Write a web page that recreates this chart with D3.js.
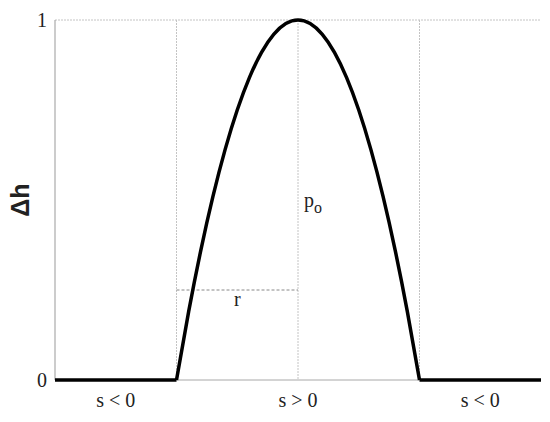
<!DOCTYPE html>
<html>
<head>
<meta charset="utf-8">
<script src="https://cdn.jsdelivr.net/npm/d3@7"></script>
<style>
  body { margin: 0; background: #fff; }
  text { font-family: "Liberation Serif", "Times New Roman", serif; fill: #222; }
</style>
</head>
<body>
<svg id="chart" width="550" height="422"></svg>
<script>
// regions along the s axis
const regionLabels = ['s < 0', 's > 0', 's < 0'];
const gridX = [1, 2, 3];
const yTicks = [0, 1];

// arch of the curve
const archX = [1, 1.1, 1.2, 1.3, 1.4, 1.5, 1.6, 1.7, 1.8, 1.9, 2, 2.1, 2.2, 2.3, 2.4, 2.5, 2.6, 2.7, 2.8, 2.9, 3];
const archY = [0, 0.19, 0.36, 0.51, 0.64, 0.75, 0.84, 0.91, 0.96, 0.99, 1, 0.99, 0.96, 0.91, 0.84, 0.75, 0.64, 0.51, 0.36, 0.19, 0];
// flat parts where s < 0
const flatLeft = [[0, 0], [1, 0]];
const flatRight = [[3, 0], [4, 0]];
// r marker level
const rLevel = 0.25;

const svg = d3.select('#chart');
const x = d3.scaleLinear().domain([0, 4]).range([55, 541]);
const y = d3.scaleLinear().domain([0, 1]).range([380, 20]);

// light grid
svg.append('line')
  .attr('x1', x(0)).attr('x2', x(4))
  .attr('y1', y(1)).attr('y2', y(1))
  .attr('stroke', '#c4c4c4').attr('stroke-dasharray', '2,1');

svg.selectAll('.vgrid')
  .data(gridX)
  .enter()
  .append('line')
  .attr('class', 'vgrid')
  .attr('x1', d => x(d)).attr('x2', d => x(d))
  .attr('y1', y(1)).attr('y2', y(0))
  .attr('stroke', '#c4c4c4').attr('stroke-dasharray', '2,1');

// baseline and left axis
svg.append('line')
  .attr('x1', x(0)).attr('x2', x(4))
  .attr('y1', y(0)).attr('y2', y(0))
  .attr('stroke', '#a8a8a8');
svg.append('line')
  .attr('x1', x(0)).attr('x2', x(0))
  .attr('y1', y(1)).attr('y2', y(0))
  .attr('stroke', '#999');

// r dashed line
svg.append('line')
  .attr('x1', x(1)).attr('x2', x(2))
  .attr('y1', y(rLevel)).attr('y2', y(rLevel))
  .attr('stroke', '#888').attr('stroke-dasharray', '3,2');

// the curve
const flatLine = d3.line().x(d => x(d[0])).y(d => y(d[1]));
[flatLeft, flatRight].forEach(seg => {
  svg.append('path')
    .attr('d', flatLine(seg))
    .attr('fill', 'none').attr('stroke', '#000').attr('stroke-width', 3.5);
});
const arch = d3.line()
  .x((d, i) => x(archX[i]))
  .y(d => y(d))
  .curve(d3.curveMonotoneX);
svg.append('path')
  .attr('d', arch(archY))
  .attr('fill', 'none').attr('stroke', '#000').attr('stroke-width', 3.5)
  .attr('stroke-linejoin', 'round');

// y tick labels
svg.selectAll('.ytick')
  .data(yTicks)
  .enter()
  .append('text')
  .attr('class', 'ytick')
  .attr('x', 47).attr('y', d => y(d) + 7)
  .attr('text-anchor', 'end')
  .style('font-size', '20px')
  .text(d => d);

// region labels
svg.selectAll('.region')
  .data(regionLabels)
  .enter()
  .append('text')
  .attr('class', 'region')
  .attr('x', (d, i) => x(i === 0 ? 0.5 : i === 1 ? 2 : 3.5))
  .attr('y', 407)
  .attr('text-anchor', 'middle')
  .style('font-size', '20px')
  .text(d => d);

// y axis title
svg.append('text')
  .attr('transform', 'translate(29,200) rotate(-90)')
  .attr('text-anchor', 'middle')
  .style('font-family', '"Liberation Sans", Arial, sans-serif')
  .style('font-weight', 'bold')
  .style('font-size', '25px')
  .text('Δh');

// annotations
svg.append('text')
  .attr('x', x(1.5)).attr('y', 306)
  .attr('text-anchor', 'middle')
  .style('font-size', '20px')
  .text('r');

const po = svg.append('text')
  .attr('x', 304).attr('y', 207)
  .style('font-size', '20px');
po.append('tspan').text('p');
po.append('tspan').attr('dy', 6).style('font-size', '16px').text('o');
</script>
</body>
</html>
